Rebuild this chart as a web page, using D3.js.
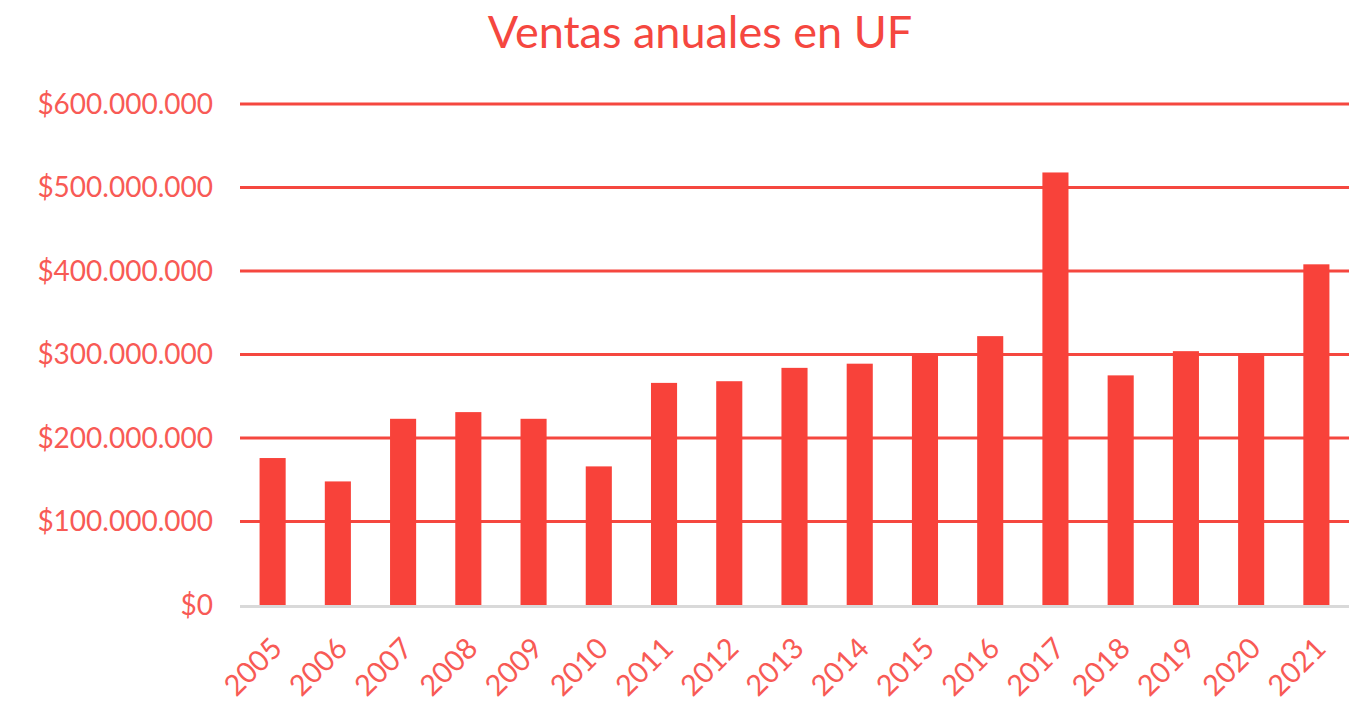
<!DOCTYPE html>
<html><head><meta charset="utf-8">
<script src="https://cdn.jsdelivr.net/npm/d3@7"></script>
<style>body{margin:0;background:#fff;}svg{display:block;}</style>
</head><body>
<svg id="c" width="1363" height="706"></svg>
<script>
const years = ["2005","2006","2007","2008","2009","2010","2011","2012","2013","2014","2015","2016","2017","2018","2019","2020","2021"];
const ventas = [176000000,148000000,223000000,231000000,223000000,166000000,266000000,268000000,284000000,289000000,300000000,322000000,518000000,275000000,304000000,300000000,408000000];
const yTicks = [0,100000000,200000000,300000000,400000000,500000000,600000000];
const title = "Ventas anuales en UF";

const svg = d3.select("#c");
const m = {left:240, right:1349, top:104, bottom:605};
const x = d3.scaleBand().domain(years).range([m.left, m.right]).paddingInner(0.6).paddingOuter(0.3);
const y = d3.scaleLinear().domain([0,600000000]).range([m.bottom, m.top]);
const fmt = v => "$" + d3.format(",")(v).replace(/,/g, ".");
const font = "Lato, 'Open Sans', sans-serif";

svg.append("text").attr("x", 700).attr("y", 48).attr("text-anchor","middle")
  .attr("font-family", font).attr("font-size", 45).attr("fill", "#f5473f").text(title);

const grid = svg.append("g");
grid.selectAll("line").data(yTicks.filter(d=>d>0)).join("line")
  .attr("x1", m.left).attr("x2", m.right)
  .attr("y1", d=>y(d)).attr("y2", d=>y(d))
  .attr("stroke", "#f5473f").attr("stroke-width", 3);

svg.append("g").selectAll("text").data(yTicks).join("text")
  .attr("x", 213).attr("y", d=>y(d)).attr("dy","0.35em").attr("text-anchor","end")
  .attr("font-family", font).attr("font-size", 28).attr("fill", "#f85a55").text(fmt);

svg.append("g").selectAll("rect").data(years).join("rect")
  .attr("x", d=>x(d)).attr("width", x.bandwidth())
  .attr("y", (d,i)=>y(ventas[i])).attr("height", (d,i)=>y(0)-y(ventas[i]))
  .attr("fill", "#f8423a");

svg.append("line").attr("x1", m.left).attr("x2", m.right).attr("y1", y(0)+1.5).attr("y2", y(0)+1.5)
  .attr("stroke", "#d9d9d9").attr("stroke-width", 3);

svg.append("g").selectAll("text").data(years).join("text")
  .attr("transform", d=>`translate(${x(d)+x.bandwidth()/2+4},${y(0)+38}) rotate(-45)`)
  .attr("text-anchor","end").attr("dy","0.35em")
  .attr("font-family", font).attr("font-size", 29).attr("fill", "#f85a55").text(d=>d);
</script>
</body></html>
